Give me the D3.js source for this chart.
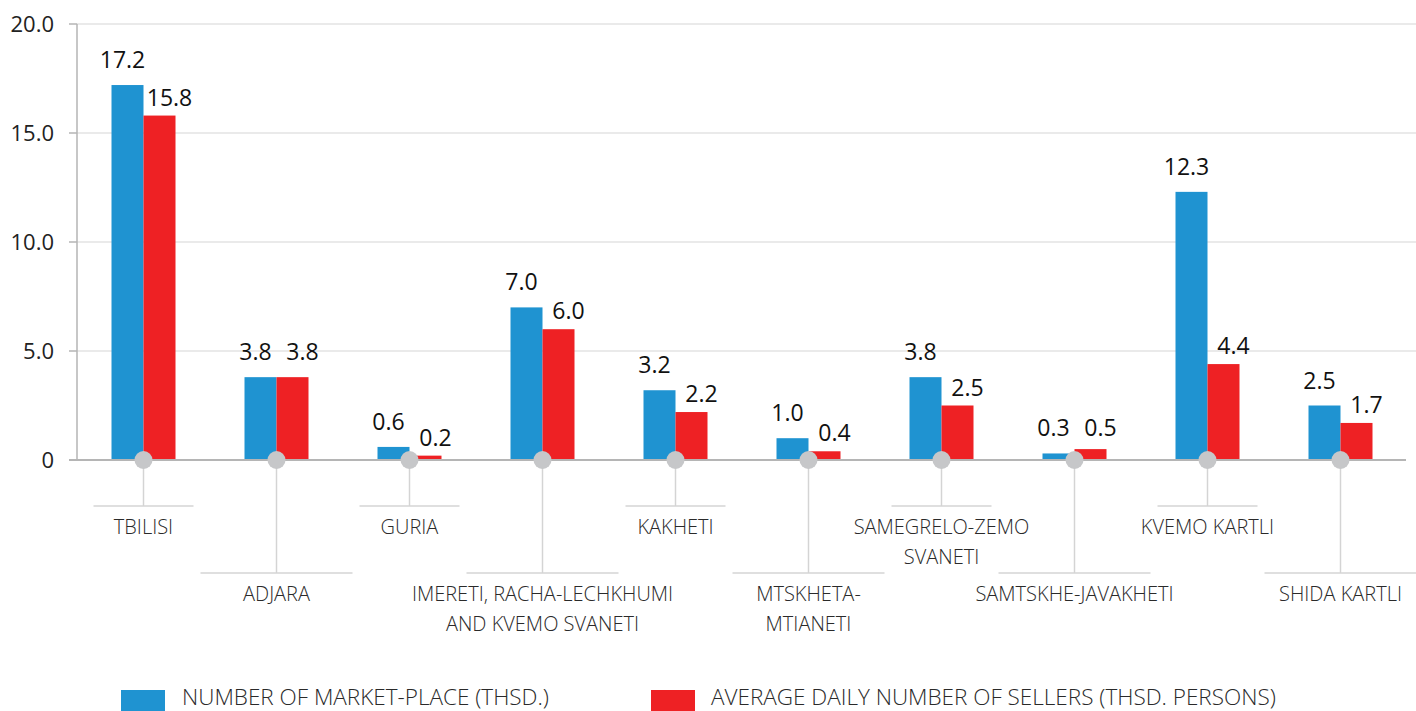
<!DOCTYPE html>
<html>
<head>
<meta charset="utf-8">
<script src="https://cdn.jsdelivr.net/npm/d3@7"></script>
<style>
  body { margin: 0; background: #fff; }
  svg text { font-family: "Open Sans", "Noto Sans", sans-serif; }
</style>
</head>
<body>
<svg width="1416" height="711"></svg>
<script>
// data
var regions = ['TBILISI', 'ADJARA', 'GURIA', 'IMERETI, RACHA-LECHKHUMI|AND KVEMO SVANETI', 'KAKHETI',
  'MTSKHETA-|MTIANETI', 'SAMEGRELO-ZEMO|SVANETI', 'SAMTSKHE-JAVAKHETI', 'KVEMO KARTLI', 'SHIDA KARTLI'];
var marketPlaces = [17.2, 3.8, 0.6, 7.0, 3.2, 1.0, 3.8, 0.3, 12.3, 2.5];
var sellers = [15.8, 3.8, 0.2, 6.0, 2.2, 0.4, 2.5, 0.5, 4.4, 1.7];
var yTicks = [0, 5, 10, 15, 20];
var seriesNames = ['NUMBER OF MARKET-PLACE (THSD.)', 'AVERAGE DAILY NUMBER OF SELLERS (THSD. PERSONS)'];
var colors = ['#1f93d1', '#ee2124'];

var svg = d3.select('svg');
var x = d3.scaleBand().domain(d3.range(regions.length)).range([77, 1407]);
var y = d3.scaleLinear().domain([0, 20]).range([460, 24]);
var barW = 32;

// grid
svg.append('g').selectAll('line').data(yTicks.slice(1)).enter().append('line')
  .attr('x1', 77).attr('x2', 1416)
  .attr('y1', function(d) { return y(d); }).attr('y2', function(d) { return y(d); })
  .attr('stroke', '#e3e3e3').attr('stroke-width', 1.5);

// y axis
var ya = svg.append('g');
ya.append('line').attr('x1', 77).attr('x2', 77).attr('y1', y(20)).attr('y2', y(0))
  .attr('stroke', '#b5b5b5').attr('stroke-width', 1.5);
ya.selectAll('.tk').data(yTicks).enter().append('line')
  .attr('x1', 69).attr('x2', 77)
  .attr('y1', function(d) { return y(d); }).attr('y2', function(d) { return y(d); })
  .attr('stroke', '#b5b5b5').attr('stroke-width', 1.5);
ya.selectAll('text').data(yTicks).enter().append('text')
  .attr('x', 54).attr('y', function(d) { return y(d); }).attr('dy', '0.35em')
  .attr('text-anchor', 'end').attr('font-size', 22).attr('fill', '#222')
  .text(function(d) { return d === 0 ? '0' : d.toFixed(1); });

// leader lines + labels
var cats = svg.append('g');
regions.forEach(function(r, i) {
  var cx = x(i) + x.bandwidth() / 2;
  var low = i % 2 === 1;
  var ly = low ? 573 : 506, hw = low ? 76 : 50;
  cats.append('line').attr('x1', cx).attr('x2', cx).attr('y1', y(0)).attr('y2', ly)
    .attr('stroke', '#d4d4d4').attr('stroke-width', 1.5);
  cats.append('line').attr('x1', cx - hw).attr('x2', cx + hw).attr('y1', ly).attr('y2', ly)
    .attr('stroke', '#d4d4d4').attr('stroke-width', 1.5);
  r.split('|').forEach(function(t, k) {
    cats.append('text').attr('x', cx).attr('y', ly + 28 + k * 30)
      .attr('text-anchor', 'middle').attr('font-size', 20).attr('font-weight', 300)
      .attr('fill', '#2a2a2a').text(t);
  });
});

// bars
var bars = svg.append('g');
bars.selectAll('.mp').data(marketPlaces).enter().append('rect')
  .attr('x', function(d, i) { return x(i) + x.bandwidth() / 2 - barW; })
  .attr('width', barW).attr('y', function(d) { return y(d); })
  .attr('height', function(d) { return y(0) - y(d); }).attr('fill', colors[0]);
bars.selectAll('.sl').data(sellers).enter().append('rect')
  .attr('x', function(d, i) { return x(i) + x.bandwidth() / 2; })
  .attr('width', barW).attr('y', function(d) { return y(d); })
  .attr('height', function(d) { return y(0) - y(d); }).attr('fill', colors[1]);

// baseline
svg.append('line').attr('x1', 69).attr('x2', 1406).attr('y1', y(0)).attr('y2', y(0))
  .attr('stroke', '#b5b5b5').attr('stroke-width', 2);

// dots
svg.append('g').selectAll('circle').data(regions).enter().append('circle')
  .attr('cx', function(d, i) { return x(i) + x.bandwidth() / 2; })
  .attr('cy', y(0)).attr('r', 9).attr('fill', '#c6c7c9');

// value labels
var vl = svg.append('g').attr('font-size', 23).attr('fill', '#111');
marketPlaces.forEach(function(v, i) {
  var cx = x(i) + x.bandwidth() / 2;
  var by = y(v) - 17;
  var ry = y(sellers[i]) - 10;
  if (Math.abs(ry - by) < 10) ry = by;
  vl.append('text').attr('x', cx - barW / 2 - 5).attr('y', by)
    .attr('text-anchor', 'middle').text(v.toFixed(1));
  vl.append('text').attr('x', cx + barW / 2 + 10).attr('y', ry)
    .attr('text-anchor', 'middle').text(sellers[i].toFixed(1));
});

// legend
var leg = svg.append('g');
[[121, 182], [651, 711]].forEach(function(p, k) {
  leg.append('rect').attr('x', p[0]).attr('y', 690).attr('width', 44).attr('height', 21).attr('fill', colors[k]);
  leg.append('text').attr('x', p[1]).attr('y', 705).attr('font-size', 22.5).attr('font-weight', 300)
    .attr('fill', '#2a2a2a').text(seriesNames[k]);
});
</script>
</body>
</html>
